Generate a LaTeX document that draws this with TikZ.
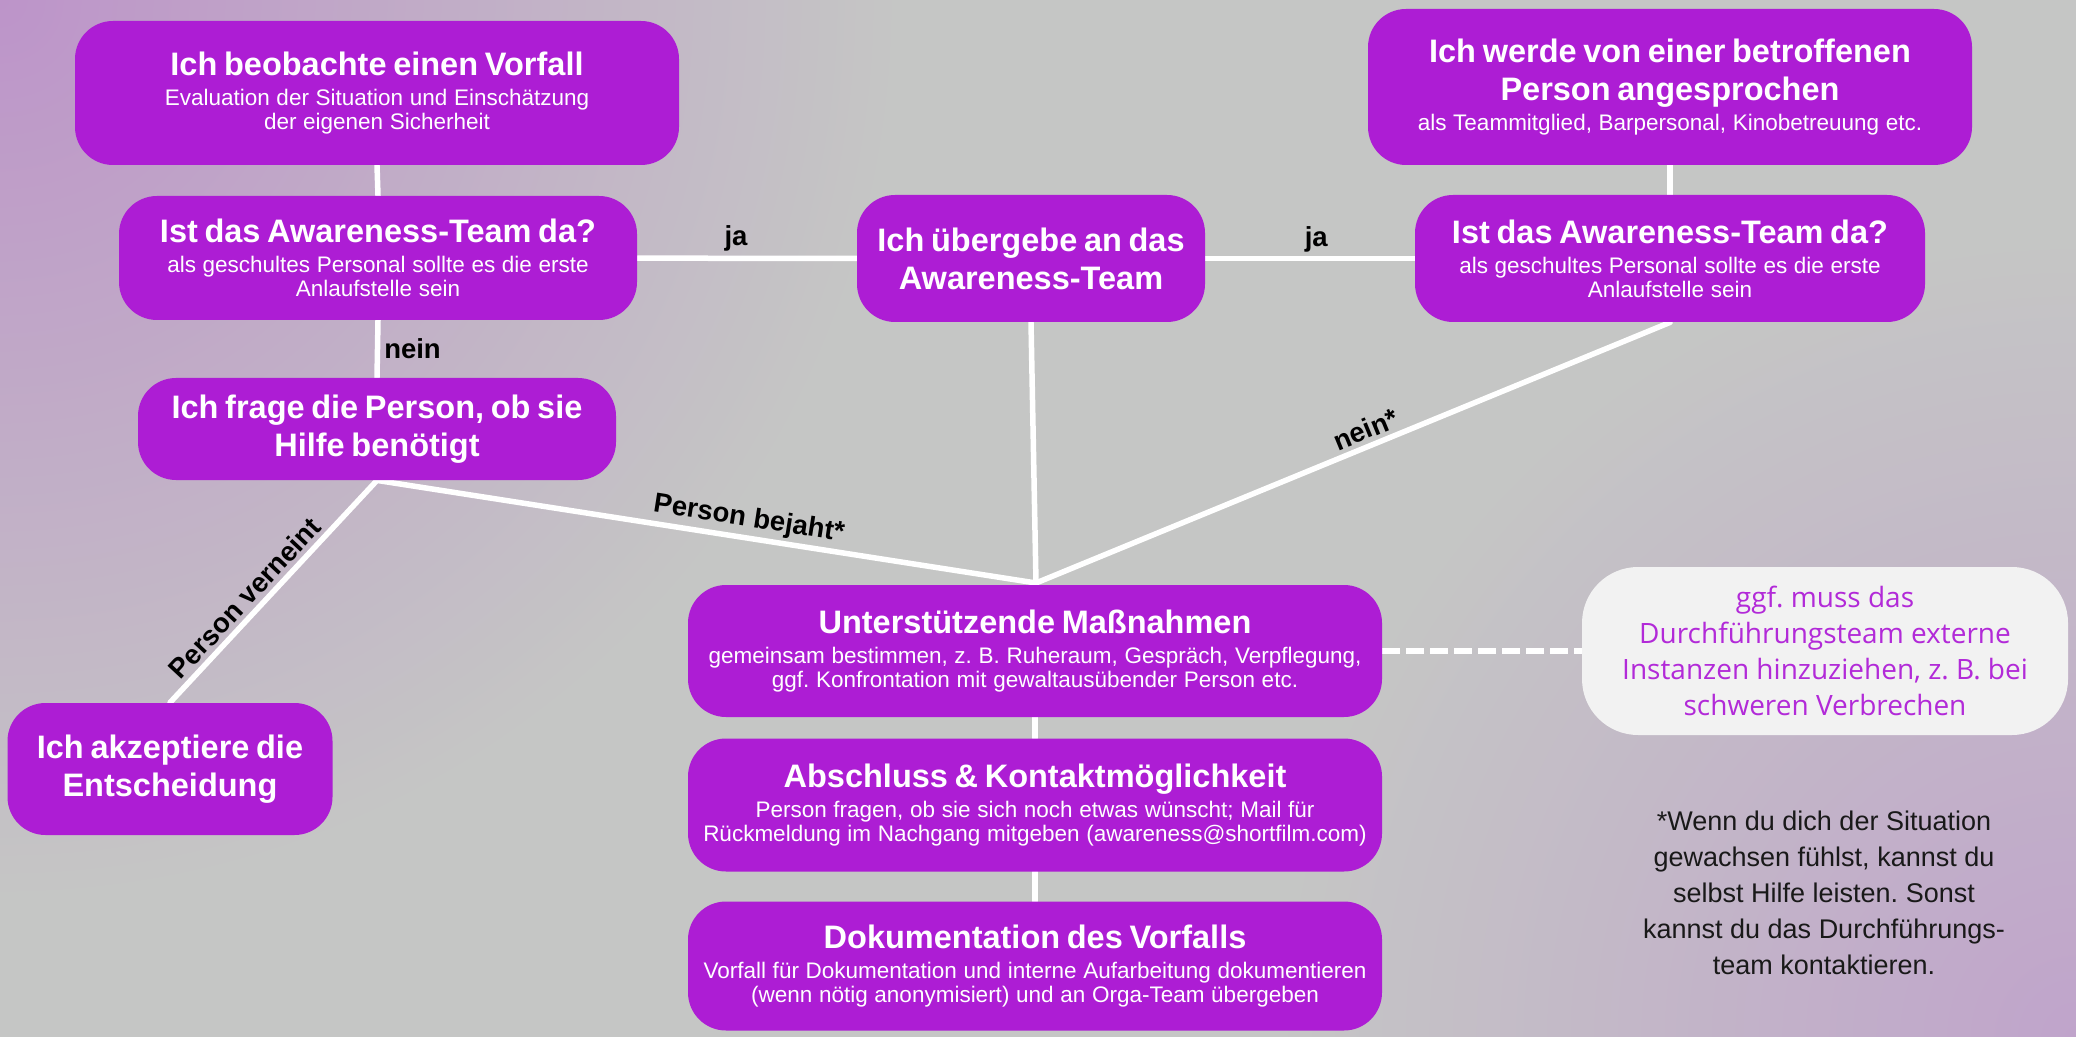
\documentclass[tikz,border=0pt]{standalone}
\usepackage{fontspec}
\setmainfont{Liberation Sans}
\newfontfamily\notizfont{Open Sans}
\usetikzlibrary{backgrounds}

\definecolor{lila}{HTML}{AD1DD4}
\definecolor{grau}{HTML}{C5C6C5}
\definecolor{eckeoben}{HTML}{BD94C9}
\definecolor{eckeunten}{HTML}{C0A4CB}
\definecolor{notiz}{HTML}{F2F2F2}
\definecolor{notiztext}{HTML}{B22AD8}

\frenchspacing
\setlength{\parindent}{0pt}
\setlength{\parskip}{0pt}
\newcommand{\titel}[1]{{\fontsize{16.25pt}{19pt}\selectfont\bfseries #1\par}}
\newcommand{\unter}[1]{{\vspace{3pt}\fontsize{11.25pt}{12pt}\selectfont #1\par}}

\tikzset{
  kasten/.style={rectangle, rounded corners=19pt, fill=lila, text=white, inner sep=0pt, align=center},
  notizkasten/.style={rectangle, rounded corners=28pt, fill=notiz, text=notiztext, inner sep=0pt, align=center,
    font=\notizfont\fontsize{14pt}{18pt}\selectfont},
  linie/.style={draw=white, line width=2.75pt, line cap=round},
  strichlinie/.style={draw=white, line width=3pt, dash pattern=on 9pt off 3pt},
  kante/.style={font=\fontsize{13.75pt}{16pt}\selectfont\bfseries, text=black, inner sep=2pt},
}

\begin{document}
\begin{tikzpicture}[x=0.5pt,y=-0.5pt]
  \useasboundingbox (0,0) rectangle (2076,1037);

  % Kaesten
  \node[kasten, minimum width=302pt, minimum height=72pt, text width=296pt] (vorfall) at (377,93)
    {\titel{Ich beobachte einen Vorfall}\unter{Evaluation der Situation und Einschätzung\\der eigenen Sicherheit}};
  \node[kasten, minimum width=259pt, minimum height=62pt, text width=254pt] (teamlinks) at (378,258)
    {\titel{Ist das Awareness-Team da?}\unter{als geschultes Personal sollte es die erste\\Anlaufstelle sein}};
  \node[kasten, minimum width=239pt, minimum height=51pt, text width=234pt] (frage) at (377,429)
    {\titel{Ich frage die Person, ob sie\\Hilfe benötigt}};
  \node[kasten, minimum width=174pt, minimum height=63.5pt, text width=170pt] (uebergabe) at (1031,258.5)
    {\titel{Ich übergebe an das\\Awareness-Team}};
  \node[kasten, minimum width=302pt, minimum height=78pt, text width=296pt] (angesprochen) at (1670,87)
    {\titel{Ich werde von einer betroffenen\\Person angesprochen}\unter{als Teammitglied, Barpersonal, Kinobetreuung etc.}};
  \node[kasten, minimum width=255pt, minimum height=63.5pt, text width=250pt] (teamrechts) at (1670,258.5)
    {\titel{Ist das Awareness-Team da?}\unter{als geschultes Personal sollte es die erste\\Anlaufstelle sein}};
  \node[kasten, minimum width=162.5pt, minimum height=66pt, text width=158pt] (akzeptiere) at (170,769)
    {\titel{Ich akzeptiere die\\Entscheidung}};
  \node[kasten, minimum width=347pt, minimum height=66pt, text width=345pt] (massnahmen) at (1035,651)
    {\titel{Unterstützende Maßnahmen}\unter{gemeinsam bestimmen, z. B. Ruheraum, Gespräch, Verpflegung,\\ggf. Konfrontation mit gewaltausübender Person etc.}};
  \node[kasten, minimum width=347pt, minimum height=66.5pt, text width=345pt] (abschluss) at (1035,805)
    {\titel{Abschluss \& Kontaktmöglichkeit}\unter{Person fragen, ob sie sich noch etwas wünscht; Mail für\\Rückmeldung im Nachgang mitgeben (awareness@shortfilm.com)}};
  \node[kasten, minimum width=347pt, minimum height=64.5pt, text width=345pt] (doku) at (1035,966)
    {\titel{Dokumentation des Vorfalls}\unter{Vorfall für Dokumentation und interne Aufarbeitung dokumentieren\\(wenn nötig anonymisiert) und an Orga-Team übergeben}};
  \node[notizkasten, minimum width=243pt, minimum height=84pt] (extern) at (1825,651)
    {ggf. muss das\\Durchführungsteam externe\\Instanzen hinzuziehen, z. B. bei\\schweren Verbrechen};
  \node[align=center, font=\fontsize{13.5pt}{18pt}\selectfont, text=black!90] (fussnote) at (1824,893)
    {*Wenn du dich der Situation\\gewachsen fühlst, kannst du\\selbst Hilfe leisten. Sonst\\kannst du das Durchführungs-\\team kontaktieren.};

  \coordinate (treffpunkt) at (1036,583);

  \begin{scope}[on background layer]
    % Hintergrund
    \fill[grau] (0,0) rectangle (2076,1037);
    \begin{scope}
      \clip (0,0) rectangle (2076,1037);
      \shade[inner color=eckeoben, outer color=grau] (0,0) circle (450pt);
      \shade[inner color=eckeunten, outer color=grau] (2076,1037) circle (400pt);
    \end{scope}
    % Verbindungen
    \draw[linie] (vorfall.south) -- (teamlinks.north);
    \draw[linie] (teamlinks.south) -- node[kante, right] (neinlinks) {nein} (frage.north);
    \draw[linie] (teamlinks) -- node[kante, above, pos=0.45] (jalinks) {ja} (uebergabe);
    \draw[linie] (uebergabe) -- node[kante, above, pos=0.53] (jarechts) {ja} (teamrechts);
    \draw[linie] (angesprochen.south) -- (teamrechts.north);
    \draw[linie] (uebergabe.south) -- (treffpunkt);
    \draw[linie] (teamrechts.south) -- node[kante, sloped, above, pos=0.47] (neinrechts) {nein*} (treffpunkt);
    \draw[linie] (frage.south) -- node[kante, sloped, above, pos=0.56, inner sep=1.5pt] (bejaht) {Person bejaht*} (treffpunkt);
    \draw[linie] (frage.south) -- node[kante, sloped, above, pos=0.58] (verneint) {Person verneint} (akzeptiere.north);
    \draw[linie] (massnahmen) -- (abschluss);
    \draw[linie] (abschluss) -- (doku);
    \draw[strichlinie] (massnahmen) -- (extern);
  \end{scope}
\end{tikzpicture}
\end{document}
